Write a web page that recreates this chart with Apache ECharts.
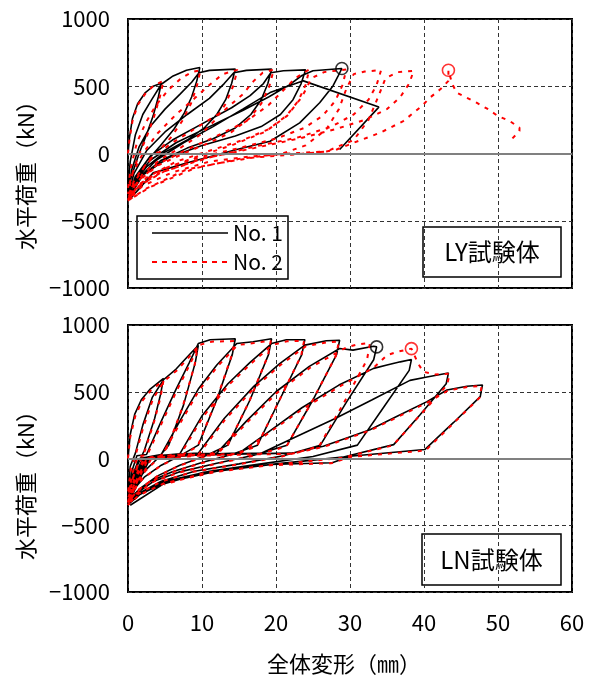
<!DOCTYPE html>
<html>
<head>
<meta charset="utf-8">
<script src="https://cdn.jsdelivr.net/npm/echarts@6.0.0/dist/echarts.min.js"></script>
<style>
  html, body { margin: 0; padding: 0; background: #fff; }
  #chart { width: 590px; height: 677px; }
</style>
</head>
<body>
<div id="chart"></div>
<script>
// 軸の目盛り
var xTicks = [0, 10, 20, 30, 40, 50, 60]
var yTicks = [-1000, -500, 0, 500, 1000]
var seriesNames = ['No. 1', 'No. 2']

// LY試験体 No.1 (全体変形 mm, 水平荷重 kN)
var lyNo1 = [
  [0,0],[0.2,120],[0.6,260],[1.3,370],[2.3,450],[3.4,500],[4.5,522],
  [4.1,420],[3.4,280],[2.5,140],[1.5,0],[0.7,-130],[0,-250],
  [0.3,-60],[1.0,140],[2.0,290],[3.2,400],[4.5,515],[6.1,577],[7.9,619],[9.7,639],
  [9.3,540],[8.6,420],[7.6,300],[6.2,180],[4.4,60],[2.5,-60],[1.0,-190],[0,-290],
  [0.5,-120],[1.5,50],[3,200],[5,330],[7,440],[8.6,530],[9.6,600],[11,618],[14.5,627],
  [14,520],[13.2,400],[12,290],[10.3,190],[8,100],[5,10],[2.5,-100],[0.8,-220],[0,-310],
  [0.8,-150],[2.5,20],[5,160],[8,290],[11,410],[13,520],[14.3,600],[16,618],[19.4,627],
  [18.9,520],[18,400],[16.6,290],[14.5,190],[11.5,110],[8,40],[4.5,-50],[1.8,-170],[0,-330],
  [1,-170],[3,-20],[6,100],[10,220],[14,340],[16.5,430],[18.3,520],[19.3,600],[21,615],[24,622],
  [23.4,520],[22.3,400],[20.6,290],[18,200],[14.5,130],[10,60],[5.5,-30],[2,-160],[0,-340],
  [1,-190],[3,-50],[6.5,80],[11,200],[15.5,320],[19,420],[21.8,510],[23.5,580],[25,615],[28.9,632],
  [28.4,577],[27.7,502],[25.9,377],[23.2,228],[19.2,91],[14.7,30],[7.9,-70],[3.4,-144],[0.2,-343],
  [1.2,-200],[3.8,-50],[7.5,80],[11.5,200],[15.5,330],[19.2,453],[23.7,540],[33.9,345],[28.6,30]
]

// LY試験体 No.2
var lyNo2 = [
  [0,0],[0.2,100],[0.6,240],[1.3,360],[2.4,450],[3.6,510],[4.8,540],
  [4.3,420],[3.5,270],[2.5,120],[1.4,-20],[0.6,-150],[0,-260],
  [0.4,-100],[1.2,80],[2.4,230],[3.8,360],[5.4,470],[7.2,560],[8.6,605],[9.8,620],
  [9.3,500],[8.5,370],[7.3,240],[5.8,120],[4,10],[2.2,-100],[0.9,-210],[0,-300],
  [0.6,-150],[2,0],[4,150],[6.5,290],[9,410],[11,510],[12.8,590],[14.8,622],
  [14.2,500],[13.2,370],[11.8,250],[9.8,140],[7.3,50],[4.5,-40],[2,-150],[0,-320],
  [0.9,-190],[3,-40],[6,80],[9.5,200],[13,320],[15.5,440],[17,540],[18.2,600],[19.7,625],
  [19.1,500],[18,370],[16.4,260],[14,160],[11,80],[7.5,0],[4,-90],[1.5,-200],[0,-330],
  [1.2,-210],[4,-80],[8,30],[12,130],[16,240],[19,360],[21,470],[22.6,560],[24.5,625],
  [24,510],[23,390],[21.4,280],[19,180],[15.5,100],[11,20],[6.5,-60],[2.5,-180],[0,-340],
  [1.5,-230],[5,-110],[9.5,-20],[14,60],[18.5,160],[21.5,280],[23.5,420],[24.8,560],[26.5,605],[29.5,625],
  [29,510],[28,390],[26.3,280],[23.8,190],[20,110],[15,40],[9.5,-30],[4.5,-120],[1.5,-230],[0,-345],
  [2,-240],[6,-140],[11,-60],[16.9,-20],[20.5,-7],[24,60],[26.8,180],[28.5,330],[29.5,480],[30.5,590],[32,610],[34.2,620],
  [33.6,510],[32.5,400],[30.5,290],[27.5,200],[23,120],[17,50],[11,-30],[5,-130],[1.5,-240],[0,-350],
  [2.5,-260],[7.9,-119],[12.4,-70],[17,-30],[22,-10],[26.8,15],[30.5,100],[32.5,250],[33.8,420],[34.8,560],[36.5,605],[38.6,615],
  [38,520],[36.8,420],[35,330],[32,250],[28,180],[23,110],[17,40],[10,-40],[4.5,-140],[1.2,-250],[0,-350],
  [3,-250],[9,-110],[15,-40],[20,-5],[26.8,15],[28.2,30],[30.5,80],[34.1,155],[37.2,241],[38.6,303],[39.7,353],[40.8,415],[42.2,477],[43.3,540],[43.3,619],
  [43.8,520],[44.4,453],[47.1,378],[48.7,328],[50,278],[51.6,241],[52.9,192],[52.9,167],[51.8,104]
]

// LN試験体 No.1
var lnNo1 = [
  [0,0],
  [0.3,180],[0.9,330],[1.8,440],[3,520],[4.8,600],
  [4.4,480],[3.6,300],[2.2,60],[1.2,-60],[0.5,-160],[0,-250],
  [0.3,-60],[1,40],[2,250],[3.3,460],[4.8,590],[6.5,670],[8,760],[9.5,848],
  [9.1,720],[7.5,400],[5.5,100],[4,0],[2.5,-80],[1,-180],[0,-290],
  [0.5,-100],[1.2,20],[2.5,30],[4.5,280],[6.5,520],[8.3,720],[9.5,861],[11.1,890],[14.5,897],
  [14.1,780],[12,440],[9.5,100],[7,20],[4.5,-50],[2.2,-140],[0.8,-230],[0,-310],
  [0.6,-130],[1.5,0],[4.5,30],[7,280],[9.5,520],[12,700],[14.7,861],[16.9,874],[19.4,897],
  [19,780],[16.5,440],[13.5,100],[10.5,20],[7,-50],[4,-130],[1.5,-230],[0,-320],
  [0.7,-150],[2,0],[4,20],[7,35],[10,320],[13.5,560],[16.5,720],[19.4,861],[21.4,890],[23.9,890],
  [23.5,780],[20.5,440],[17.5,100],[14,30],[10,-30],[6,-100],[3,-170],[1,-260],[0,-330],
  [0.8,-160],[2.2,0],[5,25],[9.5,40],[13,300],[17,540],[20.5,710],[23.9,849],[26.8,882],[28.6,886],
  [28.2,780],[25,440],[21.5,100],[17,25],[12,-35],[7,-100],[3.5,-170],[1.2,-260],[0,-335],
  [0.9,-170],[2.4,0],[6,25],[12,40],[16,280],[20,500],[24.5,690],[28.6,824],[30.4,812],[33.2,841],[33.6,836],
  [33.2,740],[29.5,420],[26,100],[21,20],[15,-40],[9,-95],[4.5,-170],[1.5,-260],[0,-340],
  [1,-180],[2.6,0],[7,25],[15,40],[19,200],[23.5,380],[28.5,550],[33.2,675],[35,700],[36.8,724],[38.3,741],
  [38,660],[34.5,380],[31,100],[25,15],[18,-40],[11,-95],[5,-170],[1.6,-265],[0,-340],
  [1.1,-190],[2.8,0],[8,25],[18,40],[23,170],[28,300],[33,440],[38.1,585],[40.4,610],[43.3,640],
  [43,560],[39.5,330],[35.9,104],[29,10],[20,-40],[12,-95],[5,-180],[1.6,-270],[0,-345],
  [1.2,-200],[3,0],[9,25],[16,35],[22,40],[26.4,92],[32.7,216],[36.3,315],[40.4,426],[43.1,513],[45.8,541],[47.9,551],
  [47.6,464],[44,270],[40.1,67],[30,17],[27.6,-32],[19.2,-45],[10.2,-104],[4.8,-190],[0.3,-350]
]

// LN試験体 No.2
var lnNo2 = [
  [0,0],
  [0.3,160],[1,320],[1.9,430],[3.1,510],[4.8,585],
  [4.4,460],[3.6,290],[2.3,60],[1.3,-60],[0.5,-170],[0,-260],
  [0.4,-70],[1.1,40],[2.1,240],[3.4,450],[4.9,580],[6.6,660],[8.1,750],[9.4,835],
  [9,700],[7.4,390],[5.4,90],[3.9,-10],[2.4,-90],[0.9,-190],[0,-295],
  [0.6,-110],[1.3,15],[2.6,25],[4.6,270],[6.6,510],[8.4,710],[9.6,850],[11.3,875],[14.4,880],
  [14,770],[11.9,430],[9.4,90],[6.9,15],[4.4,-55],[2.1,-145],[0.7,-235],[0,-315],
  [0.7,-140],[1.6,-5],[4.6,25],[7.1,270],[9.6,510],[12.1,690],[14.8,850],[17,865],[19.3,882],
  [18.9,770],[16.4,430],[13.4,90],[10.4,15],[6.9,-55],[3.9,-135],[1.4,-235],[0,-325],
  [0.8,-160],[2.1,-5],[4.1,15],[7.1,30],[10.1,310],[13.6,550],[16.6,710],[19.5,850],[21.5,878],[23.8,882],
  [23.4,770],[20.4,430],[17.4,90],[13.9,25],[9.9,-35],[5.9,-105],[2.9,-175],[0.9,-265],[0,-335],
  [0.9,-170],[2.3,-5],[5.1,20],[9.6,35],[13.1,290],[17.1,530],[20.6,700],[24,840],[26.8,870],[28.5,876],
  [28.1,770],[24.9,430],[21.4,90],[16.9,20],[11.9,-40],[6.9,-105],[3.4,-175],[1.1,-265],[0,-340],
  [1,-180],[2.5,-5],[6.1,20],[12.1,35],[16.1,270],[20.1,490],[24.6,680],[29.6,835],[31.1,855],[32.7,865],
  [32.3,740],[29.2,420],[25.8,90],[20.8,15],[14.8,-45],[8.8,-100],[4.4,-175],[1.4,-265],[0,-345],
  [1.1,-190],[2.7,-5],[7.1,20],[15.1,35],[19.1,195],[23.6,370],[28.6,540],[33.2,680],[35,774],[36.3,798],[38.3,823],
  [39.2,712],[39.9,650],[41.5,630],[43.5,635],
  [43.1,550],[39.4,320],[35.8,98],[28.9,5],[19.9,-45],[11.9,-100],[4.9,-185],[1.5,-275],[0,-348],
  [1.2,-200],[3.1,-5],[9.1,20],[16.1,30],[22.1,35],[26.5,88],[32.8,212],[36.4,310],[40.5,420],[43.2,508],[45.9,536],[47.8,545],
  [47.5,455],[43.9,260],[40.2,60],[30.1,12],[27.5,-35],[19.3,-50],[10.3,-108],[4.9,-195]
]

// 最大荷重点
var lyPeak1 = [[28.9, 632]]
var lyPeak2 = [[43.3, 619]]
var lnPeak1 = [[33.6, 836]]
var lnPeak2 = [[38.3, 823]]

var FONT = '"Noto Sans CJK JP", sans-serif'
var RED = '#ff0000'
var RED_DASH = [4, 6]

function minus(v) {
  return String(v).replace('-', '\u2212')
}

function makeX(idx, showLabel) {
  return {
    type: 'value', gridIndex: idx,
    min: xTicks[0], max: xTicks[xTicks.length - 1], interval: 10,
    axisLine: { show: false }, axisTick: { show: false },
    axisLabel: { show: showLabel, color: '#000', fontSize: 22, fontFamily: FONT, margin: 20 },
    splitLine: { show: true, lineStyle: { color: '#333', type: [4, 3], width: 1 } }
  }
}

function makeY(idx) {
  return {
    type: 'value', gridIndex: idx,
    min: yTicks[0], max: yTicks[yTicks.length - 1], interval: 500,
    axisLine: { show: false }, axisTick: { show: false },
    axisLabel: { color: '#000', fontSize: 22, fontFamily: FONT, margin: 18, formatter: minus },
    splitLine: { show: true, lineStyle: { color: '#333', type: [4, 3], width: 1 } }
  }
}

function lineSeries(name, idx, data, color, dash, width, zeroLine) {
  var s = {
    name: name, type: 'line', xAxisIndex: idx, yAxisIndex: idx,
    data: data, symbol: 'none', smooth: false, animation: false,
    lineStyle: { color: color, width: width, type: dash },
    itemStyle: { color: color }
  }
  if (zeroLine) {
    s.markLine = {
      silent: true, symbol: 'none', animation: false,
      label: { show: false },
      lineStyle: { color: '#808080', width: 2, type: 'solid' },
      data: [{ yAxis: 0 }]
    }
  }
  return s
}

function peakSeries(idx, data, color) {
  return {
    type: 'scatter', xAxisIndex: idx, yAxisIndex: idx, data: data,
    symbol: 'circle', symbolSize: 12, animation: false, z: 5,
    itemStyle: { color: 'rgba(0,0,0,0)', borderColor: color, borderWidth: 1.6 }
  }
}

function labelBox(x, y, w, h, text) {
  return {
    type: 'group', z: 100,
    children: [
      { type: 'rect', shape: { x: x, y: y, width: w, height: h },
        style: { fill: '#fff', stroke: '#000', lineWidth: 1.5 } },
      { type: 'text', x: x + w / 2, y: y + h / 2,
        style: { text: text, fill: '#000', font: '24px ' + FONT, textAlign: 'center', textVerticalAlign: 'middle' } }
    ]
  }
}

// 凡例（線種＋名前）
function legendBox() {
  var rows = [
    { y: 233, color: '#000', dash: null, width: 1.6 },
    { y: 262, color: RED, dash: [5, 5], width: 2 }
  ]
  var children = [
    { type: 'rect', shape: { x: 137, y: 216, width: 151, height: 63 },
      style: { fill: '#fff', stroke: '#000', lineWidth: 1.5 } }
  ]
  rows.forEach(function (r, i) {
    children.push({ type: 'line', shape: { x1: 152, y1: r.y, x2: 228, y2: r.y },
      style: { stroke: r.color, lineWidth: r.width, lineDash: r.dash } })
    children.push({ type: 'text', x: 233, y: r.y,
      style: { text: seriesNames[i], fill: '#000', font: '21px ' + FONT, textAlign: 'left', textVerticalAlign: 'middle' } })
  })
  return { type: 'group', z: 100, children: children }
}

function yName(cy) {
  return {
    type: 'text', x: 26, y: cy, rotation: Math.PI / 2, z: 100,
    style: { text: '水平荷重（kN）', fill: '#000', font: '22px ' + FONT, textAlign: 'center', textVerticalAlign: 'middle' }
  }
}

var chart = echarts.init(document.getElementById('chart'), null, { renderer: 'canvas' })

chart.setOption({
  animation: false,
  backgroundColor: '#fff',
  grid: [
    { left: 128, top: 19, width: 444, height: 269, show: true, borderColor: '#000', borderWidth: 2 },
    { left: 128, top: 325, width: 444, height: 267, show: true, borderColor: '#000', borderWidth: 2 }
  ],
  xAxis: [makeX(0, false), makeX(1, true)],
  yAxis: [makeY(0), makeY(1)],
  graphic: [
    legendBox(),
    labelBox(423, 227, 138, 50, 'LY試験体'),
    labelBox(422, 534, 139, 51, 'LN試験体'),
    yName(170),
    yName(480),
    { type: 'text', x: 344, y: 664, z: 100,
      style: { text: '全体変形（㎜）', fill: '#000', font: '22px ' + FONT, textAlign: 'center', textVerticalAlign: 'middle' } }
  ],
  series: [
    lineSeries(seriesNames[0], 0, lyNo1, '#000', 'solid', 1.6, true),
    lineSeries(seriesNames[1], 0, lyNo2, RED, RED_DASH, 2, false),
    peakSeries(0, lyPeak1, '#000'),
    peakSeries(0, lyPeak2, RED),
    lineSeries(seriesNames[0], 1, lnNo1, '#000', 'solid', 1.6, true),
    lineSeries(seriesNames[1], 1, lnNo2, RED, RED_DASH, 2, false),
    peakSeries(1, lnPeak1, '#000'),
    peakSeries(1, lnPeak2, RED)
  ]
})

window.onresize = function () {
  chart.resize()
}
</script>
</body>
</html>
